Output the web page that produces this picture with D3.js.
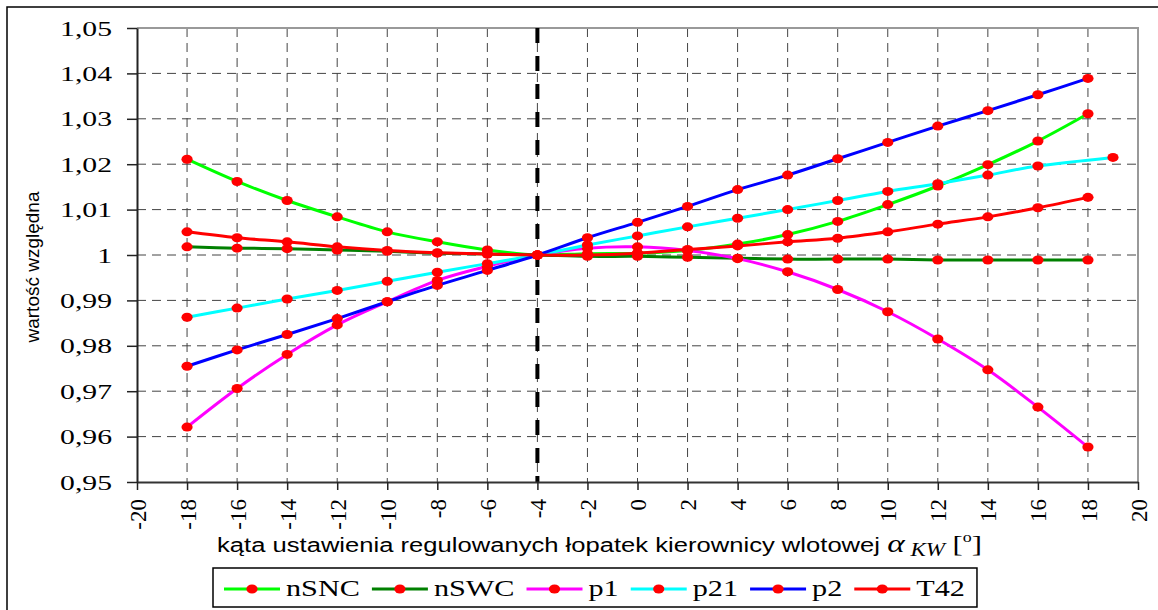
<!DOCTYPE html>
<html>
<head>
<meta charset="utf-8">
<script src="https://cdn.jsdelivr.net/npm/d3@7"></script>
<style>
  body { margin: 0; background: #fff; }
  svg { display: block; }
</style>
</head>
<body>
<div id="chart"></div>
<script>
// angle settings (x) and relative values of each series
const xValues = [-18, -16, -14, -12, -10, -8, -6, -4, -2, 0, 2, 4, 6, 8, 10, 12, 14, 16, 18];
const p21X = [-18, -16, -14, -12, -10, -8, -6, -4, -2, 0, 2, 4, 6, 8, 10, 12, 14, 16, 19];

const nSNC = [1.0211, 1.0162, 1.0120, 1.0084, 1.0051, 1.0029, 1.0011, 1.0000, 1.0003, 1.0004, 1.0010, 1.0024, 1.0045, 1.0074, 1.0111, 1.0152, 1.0199, 1.0251, 1.0311];
const nSWC = [1.0018, 1.0015, 1.0014, 1.0011, 1.0008, 1.0004, 1.0002, 1.0000, 0.9997, 0.9997, 0.9995, 0.9993, 0.9991, 0.9991, 0.9991, 0.9989, 0.9989, 0.9989, 0.9989];
const p1 = [0.9621, 0.9706, 0.9781, 0.9846, 0.9897, 0.9944, 0.9975, 1.0000, 1.0015, 1.0018, 1.0010, 0.9992, 0.9963, 0.9924, 0.9875, 0.9815, 0.9747, 0.9665, 0.9577];
const p21 = [0.9863, 0.9883, 0.9903, 0.9922, 0.9942, 0.9962, 0.9981, 1.0000, 1.0022, 1.0042, 1.0062, 1.0081, 1.0100, 1.0120, 1.0140, 1.0157, 1.0176, 1.0196, 1.0215];
const p2 = [0.9755, 0.9791, 0.9825, 0.9860, 0.9897, 0.9933, 0.9966, 1.0000, 1.0038, 1.0072, 1.0107, 1.0144, 1.0176, 1.0212, 1.0248, 1.0284, 1.0318, 1.0353, 1.0389];
const T42 = [1.0051, 1.0038, 1.0029, 1.0018, 1.0010, 1.0005, 1.0002, 1.0000, 1.0000, 1.0004, 1.0012, 1.0020, 1.0029, 1.0037, 1.0051, 1.0068, 1.0084, 1.0104, 1.0127];

const seriesNames = ['nSNC', 'nSWC', 'p1', 'p21', 'p2', 'T42'];
const seriesX = [xValues, xValues, xValues, p21X, xValues, xValues];
const seriesY = [nSNC, nSWC, p1, p21, p2, T42];
const seriesColors = ['#00ff00', '#008000', '#ff00ff', '#00ffff', '#0000ff', '#ff0000'];

const xTicks = [-20, -18, -16, -14, -12, -10, -8, -6, -4, -2, 0, 2, 4, 6, 8, 10, 12, 14, 16, 18, 20];
const yTicks = [0.95, 0.96, 0.97, 0.98, 0.99, 1.00, 1.01, 1.02, 1.03, 1.04, 1.05];
const markerX = -4;

const W = 1158, H = 610;
const plot = { left: 137, right: 1138, top: 28, bottom: 482 };
const serif = '"Liberation Serif", "Times New Roman", serif';
const sans = '"Liberation Sans", Arial, sans-serif';

const svg = d3.select('#chart').append('svg')
    .attr('width', W)
    .attr('height', H);

svg.append('rect').attr('width', W).attr('height', H).attr('fill', '#fff');

// outer frame of the chart object
svg.append('rect')
    .attr('x', 7).attr('y', 7)
    .attr('width', W + 20).attr('height', H + 20)
    .attr('fill', 'none')
    .attr('stroke', '#000')
    .attr('stroke-width', 1.5);

const x = d3.scaleLinear().domain([-20, 20]).range([plot.left, plot.right]);
const y = d3.scaleLinear().domain([0.95, 1.05]).range([plot.bottom, plot.top]);

// gridlines
const grid = svg.append('g')
    .attr('stroke', '#444')
    .attr('stroke-width', 1)
    .attr('stroke-dasharray', '9,6');

grid.selectAll('line.gx')
    .data(xTicks.filter(d => d > -20 && d < 20))
    .enter().append('line')
    .attr('x1', d => x(d)).attr('x2', d => x(d))
    .attr('y1', plot.top).attr('y2', plot.bottom);

grid.selectAll('line.gy')
    .data(yTicks.filter(d => d > 0.95 && d < 1.05))
    .enter().append('line')
    .attr('x1', plot.left).attr('x2', plot.right)
    .attr('y1', d => y(d)).attr('y2', d => y(d));

// plot area border (top, right)
svg.append('path')
    .attr('d', `M${plot.left},${plot.top}H${plot.right}V${plot.bottom}`)
    .attr('fill', 'none')
    .attr('stroke', '#999')
    .attr('stroke-width', 2);

// thick dashed line at the reference angle
svg.append('line')
    .attr('x1', x(markerX)).attr('x2', x(markerX))
    .attr('y1', plot.top).attr('y2', plot.bottom)
    .attr('stroke', '#000')
    .attr('stroke-width', 4)
    .attr('stroke-dasharray', '15,13');

// y axis
const fmtY = d => d === 1 ? '1' : d.toFixed(2).replace('.', ',');
const yAxis = svg.append('g')
    .attr('transform', `translate(${plot.left},0)`)
    .call(d3.axisLeft(y).tickValues(yTicks).tickSize(10).tickSizeOuter(0).tickPadding(15).tickFormat(fmtY));
yAxis.select('.domain').attr('stroke', '#222').attr('stroke-width', 2);
yAxis.selectAll('.tick line').attr('stroke', '#222').attr('stroke-width', 1.5);
yAxis.selectAll('.tick text')
    .attr('fill', '#000')
    .style('font-family', serif)
    .style('font-size', '22px')
    .attr('x', -25 / 1.35)
    .attr('transform', 'scale(1.35,1)');

// x axis
const xAxis = svg.append('g')
    .attr('transform', `translate(0,${plot.bottom})`)
    .call(d3.axisBottom(x).tickValues(xTicks).tickSize(8).tickSizeOuter(0).tickFormat(d => String(d)));
xAxis.select('.domain').attr('stroke', '#333').attr('stroke-width', 2);
xAxis.selectAll('.tick line').attr('stroke', '#222').attr('stroke-width', 1.5);
xAxis.selectAll('.tick text')
    .attr('fill', '#000')
    .style('font-family', serif)
    .style('font-size', '23px')
    .attr('transform', 'rotate(-90)')
    .attr('x', -17)
    .attr('y', 0)
    .attr('dy', '0.35em')
    .attr('text-anchor', 'end');

// axis titles
svg.append('text')
    .attr('transform', 'translate(39,267) rotate(-90)')
    .attr('text-anchor', 'middle')
    .style('font-family', sans)
    .style('font-size', '19px')
    .text('wartość względna');

const xt = svg.append('g')
    .attr('transform', 'translate(217,552) scale(1.28,1)')
    .append('text')
    .style('font-family', sans)
    .style('font-size', '20px');
xt.append('tspan').text('kąta ustawienia regulowanych łopatek kierownicy wlotowej ');
xt.append('tspan').style('font-family', serif).style('font-style', 'italic').style('font-size', '26px').text('α');
xt.append('tspan').style('font-family', serif).style('font-style', 'italic').style('font-size', '18px').attr('dy', 4).text(' KW');
xt.append('tspan').style('font-family', serif).style('font-size', '24px').attr('dy', -4).text(' [');
xt.append('tspan').style('font-family', serif).style('font-size', '14px').attr('dy', -10).text('o');
xt.append('tspan').style('font-family', serif).style('font-size', '24px').attr('dy', 10).text(']');

// series lines and markers
const line = d3.line()
    .x(d => x(d[0]))
    .y(d => y(d[1]))
    .curve(d3.curveCatmullRom.alpha(0));

seriesNames.forEach((name, i) => {
    const pts = seriesX[i].map((xv, j) => [xv, seriesY[i][j]]);
    svg.append('path')
        .datum(pts)
        .attr('fill', 'none')
        .attr('stroke', seriesColors[i])
        .attr('stroke-width', 3)
        .attr('d', line);
    svg.append('g').selectAll('ellipse')
        .data(pts)
        .enter().append('ellipse')
        .attr('cx', d => x(d[0]))
        .attr('cy', d => y(d[1]))
        .attr('rx', 5.6)
        .attr('ry', 4.5)
        .attr('fill', '#ff0000');
});

// legend
const legend = svg.append('g');
const legendBox = legend.append('rect')
    .attr('fill', '#fff')
    .attr('stroke', '#000')
    .attr('stroke-width', 1.5);

let lx = 224;
const ly = 589;
const SXL = 1.26;
seriesNames.forEach((name, i) => {
    legend.append('line')
        .attr('x1', lx).attr('x2', lx + 56)
        .attr('y1', ly).attr('y2', ly)
        .attr('stroke', seriesColors[i])
        .attr('stroke-width', 3);
    legend.append('ellipse')
        .attr('cx', lx + 28).attr('cy', ly)
        .attr('rx', 5.6).attr('ry', 4.5)
        .attr('fill', '#ff0000');
    const t = legend.append('text')
        .attr('transform', `translate(${lx + 62},${ly + 7}) scale(${SXL},1)`)
        .style('font-family', serif)
        .style('font-size', '24px')
        .text(name);
    lx += 62 + t.node().getComputedTextLength() * SXL + 12;
});
legendBox
    .attr('x', 213).attr('y', 568)
    .attr('width', lx - 213).attr('height', 39);
</script>
</body>
</html>
